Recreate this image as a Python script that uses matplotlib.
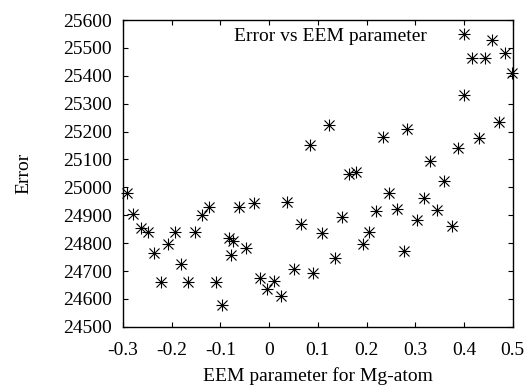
import matplotlib
matplotlib.use("Agg")
import matplotlib.pyplot as plt

plt.rcParams['font.family'] = ['Liberation Serif', 'DejaVu Serif']

# EEM parameter values and the resulting error
eem = [-0.292, -0.279, -0.264, -0.249, -0.236, -0.222, -0.207, -0.193, -0.181, -0.166,
       -0.152, -0.138, -0.123, -0.110, -0.096, -0.082, -0.079, -0.074, -0.061, -0.047,
       -0.032, -0.019, -0.005, 0.010, 0.024, 0.037, 0.051, 0.066, 0.084, 0.091,
       0.108, 0.122, 0.135, 0.149, 0.163, 0.178, 0.192, 0.206, 0.220, 0.233,
       0.247, 0.262, 0.276, 0.283, 0.304, 0.318, 0.330, 0.345, 0.360, 0.375,
       0.387, 0.401, 0.401, 0.416, 0.431, 0.443, 0.458, 0.472, 0.484, 0.499]
err = [24980, 24905, 24854, 24839, 24764, 24662, 24796, 24839, 24725, 24660,
       24839, 24901, 24928, 24660, 24578, 24818, 24758, 24808, 24931, 24784,
       24944, 24676, 24636, 24664, 24611, 24949, 24707, 24868, 25153, 24692,
       24838, 25225, 24746, 24895, 25049, 25054, 24796, 24839, 24916, 25181,
       24979, 24922, 24772, 25210, 24884, 24962, 25095, 24919, 25024, 24863,
       25140, 25551, 25331, 25465, 25178, 25465, 25527, 25236, 25483, 25411]

xticks = [-0.3, -0.2, -0.1, 0, 0.1, 0.2, 0.3, 0.4, 0.5]
xticklabels = ['-0.3', '-0.2', '-0.1', '0', '0.1', '0.2', '0.3', '0.4', '0.5']
yticks = list(range(24500, 25601, 100))

fig = plt.figure(figsize=(5.28, 3.85), dpi=100)
ax = fig.add_axes([0.233, 0.151, 0.738, 0.797])

# gnuplot style asterisk: plus and cross on top of each other
ax.plot(eem, err, linestyle='none', marker='+', markersize=9, markeredgewidth=0.8,
        color='black', clip_on=False)
ax.plot(eem, err, linestyle='none', marker='x', markersize=6.5, markeredgewidth=0.8,
        color='black', clip_on=False)

ax.set_xlim(-0.3, 0.5)
ax.set_ylim(24500, 25600)
ax.set_xticks(xticks)
ax.set_xticklabels(xticklabels)
ax.set_yticks(yticks)
ax.tick_params(direction='in', length=3.5, width=0.8, labelsize=14,
               top=True, right=True)
ax.tick_params(axis='x', pad=11)
ax.tick_params(axis='y', pad=8)
for s in ax.spines.values():
    s.set_linewidth(1.0)

ax.set_xlabel('EEM parameter for Mg-atom', fontsize=14, labelpad=6)
ax.set_ylabel('Error', fontsize=14, labelpad=22)
ax.text(0.533, 0.975, 'Error vs EEM parameter', transform=ax.transAxes,
        ha='center', va='top', fontsize=14)

fig.savefig('out.png', dpi=100)
